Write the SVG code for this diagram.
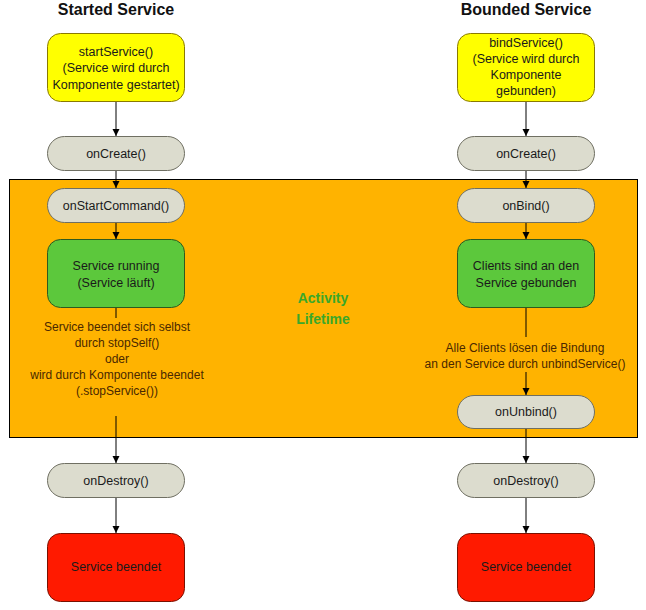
<svg xmlns="http://www.w3.org/2000/svg" width="646" height="610" viewBox="0 0 646 610">
<style>
text{font-family:"Liberation Sans",Arial,sans-serif;font-size:12.5px;text-anchor:middle;fill:#1a1a1a}
.title{font-size:16px;font-weight:bold;fill:#111}
.yel{fill:#ffff00;stroke:#8a7a00;stroke-width:1}
.gry{fill:#dcdcce;stroke:#6f6f62;stroke-width:1}
.grn{fill:#5cc83c;stroke:#2f5a1f;stroke-width:1}
.red{fill:#ff1a00;stroke:#7a1000;stroke-width:1}
.lbl{fill:#4a2800;font-size:12px}
.act{font-size:14px;font-weight:bold;fill:#3aa82a}
.c line{stroke:#000;stroke-width:1}
</style>
<defs>
<marker id="ah" markerWidth="8" markerHeight="8" refX="7" refY="4" orient="auto" markerUnits="userSpaceOnUse">
<path d="M0,0.5 L7,4 L0,7.5 Z" fill="#000"/>
</marker>
</defs>
<rect width="646" height="610" fill="#fff"/>
<g id="lifetime">
<rect x="9.5" y="179.5" width="628" height="258" fill="#ffb300" stroke="#000" stroke-width="1"/>
<text class="act" x="323" y="303">Activity</text>
<text class="act" x="323" y="324">Lifetime</text>
</g>
<text class="title" x="116" y="15">Started Service</text>
<text class="title" x="526" y="15">Bounded Service</text>
<g class="c" id="connectors">
<line x1="116" y1="102" x2="116" y2="136" marker-end="url(#ah)"/>
<line x1="116" y1="171" x2="116" y2="188" marker-end="url(#ah)"/>
<line x1="116" y1="223" x2="116" y2="239" marker-end="url(#ah)"/>
<line x1="116" y1="308" x2="116" y2="318"/>
<line x1="116" y1="416" x2="116" y2="463" marker-end="url(#ah)"/>
<line x1="116" y1="498" x2="116" y2="533" marker-end="url(#ah)"/>
<line x1="526" y1="102" x2="526" y2="136" marker-end="url(#ah)"/>
<line x1="526" y1="171" x2="526" y2="188" marker-end="url(#ah)"/>
<line x1="526" y1="223" x2="526" y2="239" marker-end="url(#ah)"/>
<line x1="526" y1="308" x2="526" y2="337"/>
<line x1="526" y1="372" x2="526" y2="395" marker-end="url(#ah)"/>
<line x1="526" y1="428" x2="526" y2="463" marker-end="url(#ah)"/>
<line x1="526" y1="498" x2="526" y2="533" marker-end="url(#ah)"/>
</g>
<g id="startService">
<rect class="yel" x="47.5" y="33.5" width="137" height="68" rx="13"/>
<text x="116" y="56">startService()</text>
<text x="116" y="72">(Service wird durch</text>
<text x="116" y="89">Komponente gestartet)</text>
</g>
<g id="onCreateL">
<rect class="gry" x="47.5" y="136.5" width="137" height="34" rx="17"/>
<text x="116" y="158">onCreate()</text>
</g>
<g id="onStartCommand">
<rect class="gry" x="47.5" y="188.5" width="137" height="34" rx="17"/>
<text x="116" y="210">onStartCommand()</text>
</g>
<g id="serviceRunning">
<rect class="grn" x="47.5" y="239.5" width="137" height="68" rx="13"/>
<text x="116" y="270">Service running</text>
<text x="116" y="287">(Service läuft)</text>
</g>
<g id="stopLabel">
<text class="lbl" x="117" y="331">Service beendet sich selbst</text>
<text class="lbl" x="117" y="347">durch stopSelf()</text>
<text class="lbl" x="117" y="363">oder</text>
<text class="lbl" x="117" y="379">wird durch Komponente beendet</text>
<text class="lbl" x="117" y="395">(.stopService())</text>
</g>
<g id="onDestroyL">
<rect class="gry" x="47.5" y="463.5" width="137" height="34" rx="17"/>
<text x="116" y="485">onDestroy()</text>
</g>
<g id="beendetL">
<rect class="red" x="47.5" y="533.5" width="137" height="68" rx="13"/>
<text x="116" y="571">Service beendet</text>
</g>
<g id="bindService">
<rect class="yel" x="457.5" y="33.5" width="137" height="68" rx="13"/>
<text x="526" y="47">bindService()</text>
<text x="526" y="63">(Service wird durch</text>
<text x="526" y="79">Komponente</text>
<text x="526" y="95">gebunden)</text>
</g>
<g id="onCreateR">
<rect class="gry" x="457.5" y="136.5" width="137" height="34" rx="17"/>
<text x="526" y="158">onCreate()</text>
</g>
<g id="onBind">
<rect class="gry" x="457.5" y="188.5" width="137" height="34" rx="17"/>
<text x="526" y="210">onBind()</text>
</g>
<g id="clientsBound">
<rect class="grn" x="457.5" y="239.5" width="137" height="68" rx="13"/>
<text x="526" y="270">Clients sind an den</text>
<text x="526" y="287">Service gebunden</text>
</g>
<g id="unbindLabel">
<text class="lbl" x="525" y="352">Alle Clients lösen die Bindung</text>
<text class="lbl" x="525" y="368">an den Service durch unbindService()</text>
</g>
<g id="onUnbind">
<rect class="gry" x="457.5" y="395.5" width="137" height="33" rx="16.5"/>
<text x="526" y="416">onUnbind()</text>
</g>
<g id="onDestroyR">
<rect class="gry" x="457.5" y="463.5" width="137" height="34" rx="17"/>
<text x="526" y="485">onDestroy()</text>
</g>
<g id="beendetR">
<rect class="red" x="457.5" y="533.5" width="137" height="68" rx="13"/>
<text x="526" y="571">Service beendet</text>
</g>
</svg>
